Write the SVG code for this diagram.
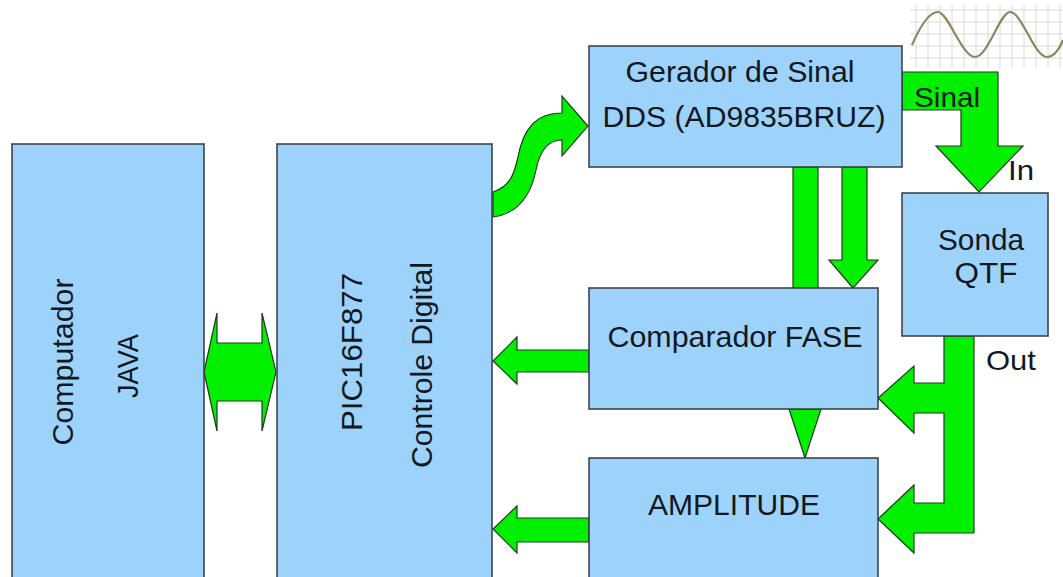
<svg xmlns="http://www.w3.org/2000/svg" width="1063" height="577" viewBox="0 0 1063 577">
<style>
.box{fill:#9dd3fb;stroke:#333a40;stroke-width:1.5}
.g{fill:#00f000;stroke:#1f3a1f;stroke-width:1.2;stroke-linejoin:miter}
.t{font-family:"Liberation Sans",Arial,sans-serif;font-size:29px;fill:#111822}
.s{font-size:28px}
.grid{stroke:#dadada;stroke-width:1}
</style>
<rect width="1063" height="577" fill="#ffffff"/>
<g id="sine">
<g class="grid">
<line x1="910" y1="10" x2="1063" y2="10"/><line x1="910" y1="22" x2="1063" y2="22"/><line x1="910" y1="34" x2="1063" y2="34"/><line x1="910" y1="46" x2="1063" y2="46"/><line x1="910" y1="58" x2="1063" y2="58"/>
<line x1="916" y1="5" x2="916" y2="68"/><line x1="928" y1="5" x2="928" y2="68"/><line x1="940" y1="5" x2="940" y2="68"/><line x1="952" y1="5" x2="952" y2="68"/><line x1="964" y1="5" x2="964" y2="68"/><line x1="976" y1="5" x2="976" y2="68"/><line x1="988" y1="5" x2="988" y2="68"/><line x1="1000" y1="5" x2="1000" y2="68"/><line x1="1012" y1="5" x2="1012" y2="68"/><line x1="1024" y1="5" x2="1024" y2="68"/><line x1="1036" y1="5" x2="1036" y2="68"/><line x1="1048" y1="5" x2="1048" y2="68"/><line x1="1060" y1="5" x2="1060" y2="68"/>
</g>
<path d="M912,45 C922,22 930,12 938,12 C948,12 962,57 975,57 C988,57 1000,12 1010,12 C1022,12 1034,57 1047,57 C1054,57 1060,48 1063,40" fill="none" stroke="#8c8660" stroke-width="2.2"/>
</g>
<g id="connectors">
<path class="g" d="M204,372 L217,313 L217,343 L262,343 L262,313 L276,372 L262,431 L262,401 L217,401 L217,431 Z"/>
<path class="g" d="M493,192 C510,186 514,175 518,157 C523,130 535,113 562,113 L562,96 L588,126 L562,156 L562,140 C548,140 540,150 536,170 C530,200 515,214 493,217 Z"/>
<path class="g" d="M902,72 L998,72 L998,146 L1023,146 L979,192 L936,146 L961,146 L961,110 L902,110 Z"/>
<rect class="g" x="793" y="167" width="25" height="121"/>
<path class="g" d="M842,167 L867,167 L867,260 L878,260 L853,288 L829,260 L842,260 Z"/>
<path class="g" d="M789,409 L821,409 L805,458 Z"/>
<path class="g" d="M589,350 L517,350 L517,337 L493,361 L517,384 L517,372 L589,372 Z"/>
<path class="g" d="M589,518 L517,518 L517,506 L493,529 L517,553 L517,542 L589,542 Z"/>
<path class="g" d="M944,336 L974,336 L974,533 L914,533 L914,553 L878,519 L914,485 L914,503 L944,503 L944,413 L914,413 L914,433 L878,398 L914,366 L914,383 L944,383 Z"/>
</g>
<g id="computador">
<rect class="box" x="12" y="144" width="192" height="440"/>
<text class="t" transform="translate(73,362) rotate(-90)" text-anchor="middle" textLength="167" lengthAdjust="spacingAndGlyphs">Computador</text>
<text class="t" transform="translate(138,366) rotate(-90)" text-anchor="middle" textLength="64" lengthAdjust="spacingAndGlyphs">JAVA</text>
</g>
<g id="pic">
<rect class="box" x="277" y="144" width="215" height="440"/>
<text class="t" transform="translate(362,352) rotate(-90)" text-anchor="middle" textLength="158" lengthAdjust="spacingAndGlyphs">PIC16F877</text>
<text class="t" transform="translate(432,365) rotate(-90)" text-anchor="middle" textLength="206" lengthAdjust="spacingAndGlyphs">Controle Digital</text>
</g>
<g id="gerador">
<rect class="box" x="589" y="46" width="313" height="121"/>
<text class="t" x="740" y="82" text-anchor="middle" textLength="229" lengthAdjust="spacingAndGlyphs">Gerador de Sinal</text>
<text class="t" x="744" y="127" text-anchor="middle" textLength="283" lengthAdjust="spacingAndGlyphs">DDS (AD9835BRUZ)</text>
</g>
<g id="sonda">
<rect class="box" x="902" y="193" width="146" height="143"/>
<text class="t" x="981" y="250" text-anchor="middle" textLength="86" lengthAdjust="spacingAndGlyphs">Sonda</text>
<text class="t" x="986" y="283" text-anchor="middle" textLength="63" lengthAdjust="spacingAndGlyphs">QTF</text>
</g>
<g id="comparador">
<rect class="box" x="589" y="288" width="289" height="121"/>
<text class="t" x="735" y="347" text-anchor="middle" textLength="255" lengthAdjust="spacingAndGlyphs">Comparador FASE</text>
</g>
<g id="amplitude">
<rect class="box" x="589" y="458" width="289" height="130"/>
<text class="t" x="734" y="515" text-anchor="middle" textLength="172" lengthAdjust="spacingAndGlyphs">AMPLITUDE</text>
</g>
<g id="labels">
<text class="t s" x="914" y="107" textLength="66" lengthAdjust="spacingAndGlyphs">Sinal</text>
<text class="t s" x="1008" y="180" textLength="26" lengthAdjust="spacingAndGlyphs">In</text>
<text class="t s" x="986" y="370" textLength="50" lengthAdjust="spacingAndGlyphs">Out</text>
</g>
</svg>
